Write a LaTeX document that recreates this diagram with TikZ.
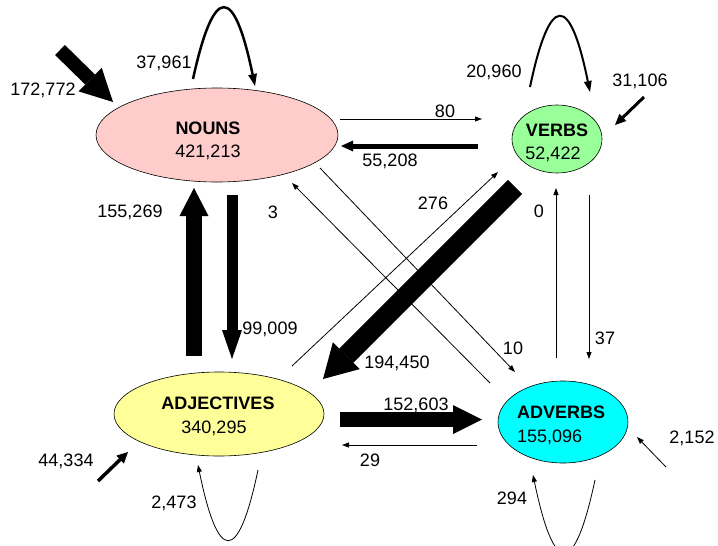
\documentclass[tikz,border=0pt]{standalone}
\usepackage{fontspec}
\setmainfont{Liberation Sans}
\usetikzlibrary{arrows.meta,shapes.geometric}

\definecolor{nounpink}{RGB}{255,204,204}
\definecolor{verbgreen}{RGB}{153,255,153}
\definecolor{adjyellow}{RGB}{255,255,153}
\definecolor{advcyan}{RGB}{0,255,255}

\begin{document}
\begin{tikzpicture}[x=1pt,y=-1pt,
  every node/.style={font=\fontsize{18}{21}\selectfont, inner sep=0pt},
  class/.style={draw=black, line width=0.6pt, ellipse, inner sep=0pt},
  cname/.style={anchor=base, font=\fontsize{18}{21}\selectfont\bfseries},
  ccount/.style={anchor=base},
  lbl/.style={anchor=base},
  thinflow/.style={line width=0.8pt, -{Triangle[width=5pt,length=7pt]}},
  flow/.style args={#1/#2/#3}{line width=#1pt,
     -{Triangle[width=#2pt,length=#3pt,line width=0pt]}},
]
\useasboundingbox (0,0) rectangle (718,546);

% word classes
\node[class, fill=nounpink,  minimum width=242pt, minimum height=94pt] (nouns) at (217,135) {};
\node[class, fill=verbgreen, minimum width=90pt,  minimum height=68pt] (verbs) at (557,139) {};
\node[class, fill=adjyellow, minimum width=210pt, minimum height=84pt] (adj)   at (219,414) {};
\node[class, fill=advcyan,   minimum width=130pt, minimum height=82pt] (adv)   at (563,422) {};

\node[cname]  (nouns-name)  at (208,134.5) {NOUNS};
\node[ccount] (nouns-count) at (208,157.5) {421,213};
\node[cname]  (verbs-name)  at (557,136.5) {VERBS};
\node[ccount] (verbs-count) at (553,159.5) {52,422};
\node[cname]  (adj-name)    at (218,409.5) {ADJECTIVES};
\node[ccount] (adj-count)   at (214,433.5) {340,295};
\node[cname, anchor=base west]  (adv-name)  at (517,418.5) {ADVERBS};
\node[ccount, anchor=base west] (adv-count) at (517,442.5) {155,096};

% connector end points
\coordinate (n2v-a) at (340,119);   \coordinate (n2v-b) at (482,119);
\coordinate (v2n-a) at (478,146);   \coordinate (v2n-b) at (341,146);
\coordinate (n2d-a) at (320,168);   \coordinate (n2d-b) at (515,372);
\coordinate (d2n-a) at (490,383);   \coordinate (d2n-b) at (292,183);
\coordinate (j2v-a) at (292,366);   \coordinate (j2v-b) at (498,172);
\coordinate (v2j-a) at (515,187);   \coordinate (v2j-b) at (323,379);
\coordinate (n2j-a) at (232,195);   \coordinate (n2j-b) at (232,359);
\coordinate (j2n-a) at (194,356);   \coordinate (j2n-b) at (194,188);
\coordinate (j2d-a) at (340,419.5); \coordinate (j2d-b) at (482,419.5);
\coordinate (d2j-a) at (477,445);   \coordinate (d2j-b) at (342,445);
\coordinate (v2d-a) at (589,195);   \coordinate (v2d-b) at (589,359);
\coordinate (d2v-a) at (556,358);   \coordinate (d2v-b) at (556,188);
\coordinate (in-n) at (60,50);      \coordinate (in-n-tip) at (113,102);
\coordinate (in-v) at (644,97);     \coordinate (in-v-tip) at (615,125);
\coordinate (in-j) at (98,481);     \coordinate (in-j-tip) at (128,452);
\coordinate (in-d) at (666,467);    \coordinate (in-d-tip) at (637,437);
\coordinate (loop-n-a) at (193,79); \coordinate (loop-n-b) at (255,86);
\coordinate (loop-v-a) at (530,87); \coordinate (loop-v-b) at (590,92);
\coordinate (loop-j-a) at (258,470);\coordinate (loop-j-b) at (198,465);
\coordinate (loop-d-a) at (595,480);\coordinate (loop-d-b) at (533,475);

% transitions between classes
\draw[thinflow] (n2v-a) -- (n2v-b);
\draw[flow=5/11/12] (v2n-a) -- (v2n-b);
\draw[thinflow] (n2d-a) -- (n2d-b);
\draw[thinflow] (d2n-a) -- (d2n-b);
\draw[thinflow] (j2v-a) -- (j2v-b);
\draw[flow=20/38/33] (v2j-a) -- (v2j-b);
\draw[flow=11/20/29] (n2j-a) -- (n2j-b);
\draw[flow=16/29/28] (j2n-a) -- (j2n-b);
\draw[flow=15/29/29] (j2d-a) -- (j2d-b);
\draw[thinflow] (d2j-a) -- (d2j-b);
\draw[thinflow] (v2d-a) -- (v2d-b);
\draw[thinflow] (d2v-a) -- (d2v-b);

% sentence starts
\draw[flow=14/33/32] (in-n) -- (in-n-tip);
\draw[flow=3/10/11] (in-v) -- (in-v-tip);
\draw[flow=3.5/11/11] (in-j) -- (in-j-tip);
\draw[thinflow] (in-d) -- (in-d-tip);

% repeats (parabolic loops)
\draw[flow=2.5/9/12] (loop-n-a) .. controls (214,-17) and (234,-15) .. (loop-n-b);
\draw[flow=2/8/11] (loop-v-a) .. controls (550,-8) and (570,-6) .. (loop-v-b);
\draw[thinflow] (loop-j-a) .. controls (238,565) and (218,563) .. (loop-j-b);
\draw[thinflow] (loop-d-a) .. controls (574,578) and (554,576) .. (loop-d-b);

% counts
\node[lbl] (l-in-n)  at (43,95.5)   {172,772};
\node[lbl] (l-loop-n) at (164,68.5) {37,961};
\node[lbl] (l-n2v)   at (445,117.5) {80};
\node[lbl] (l-v2n)   at (390,166.5) {55,208};
\node[lbl] (l-loop-v) at (494,77.5) {20,960};
\node[lbl] (l-in-v)  at (640,86.5)  {31,106};
\node[lbl] (l-d2n)   at (273,218.5) {3};
\node[lbl] (l-j2v)   at (433,209.5) {276};
\node[lbl] (l-d2v)   at (539,217.5) {0};
\node[lbl] (l-j2n)   at (130,217.5) {155,269};
\node[lbl] (l-n2j)   at (270,334.5) {99,009};
\node[lbl] (l-n2d)   at (513,354.5) {10};
\node[lbl] (l-v2d)   at (605,344.5) {37};
\node[lbl] (l-v2j)   at (397,368.5) {194,450};
\node[lbl] (l-j2d)   at (416,410.5) {152,603};
\node[lbl] (l-d2j)   at (370,466.5) {29};
\node[lbl] (l-in-d)  at (692,443.5) {2,152};
\node[lbl] (l-loop-d) at (512,504.5) {294};
\node[lbl] (l-in-j)  at (66,466.5)  {44,334};
\node[lbl] (l-loop-j) at (174,508.5) {2,473};
\end{tikzpicture}
\end{document}
